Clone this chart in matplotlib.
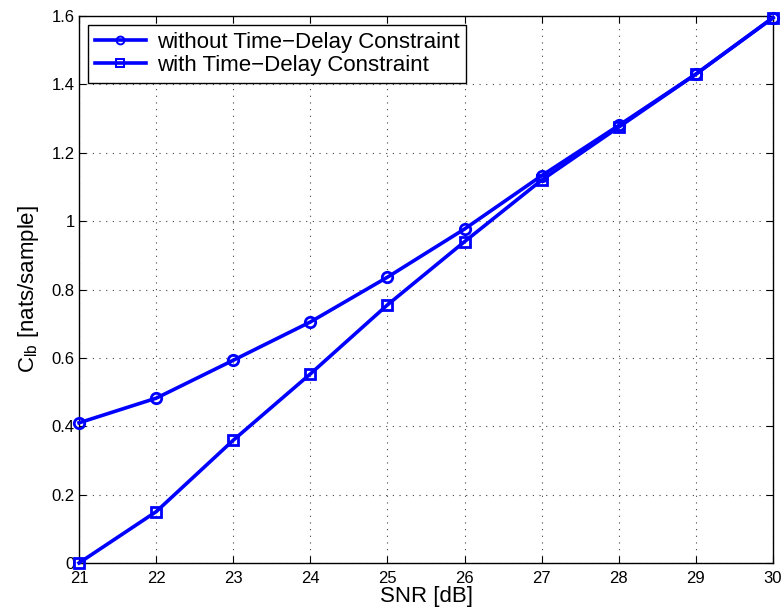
import matplotlib
matplotlib.use("Agg")
import matplotlib.pyplot as plt

snr = [21, 22, 23, 24, 25, 26, 27, 28, 29, 30]
without_tdc = [0.41, 0.482, 0.593, 0.705, 0.836, 0.977, 1.133, 1.28, 1.43, 1.595]
with_tdc = [0.0, 0.15, 0.359, 0.553, 0.755, 0.94, 1.12, 1.275, 1.43, 1.595]
yticks = [0, 0.2, 0.4, 0.6, 0.8, 1.0, 1.2, 1.4, 1.6]
ytick_labels = ["0", "0.2", "0.4", "0.6", "0.8", "1", "1.2", "1.4", "1.6"]

plt.rcParams['font.family'] = ['Liberation Sans', 'DejaVu Sans']
fig = plt.figure(figsize=(7.84, 6.14), dpi=100)
ax = fig.add_axes([79/784, 51/614, 694/784, 547/614])

ax.plot(snr, without_tdc, '-o', color='#0000ff', lw=2.6, ms=7.5, mfc='none', mew=2,
        label='without Time\u2212Delay Constraint', clip_on=False, zorder=3)
ax.plot(snr, with_tdc, '-s', color='#0000ff', lw=2.6, ms=7, mfc='none', mew=2,
        label='with Time\u2212Delay Constraint', clip_on=False, zorder=3)

ax.set_xlim(21, 30)
ax.set_ylim(0, 1.6)
ax.set_xticks(snr)
ax.set_yticks(yticks)
ax.set_yticklabels(ytick_labels)
ax.tick_params(direction='in', top=True, right=True, labelsize=12, length=5, width=0.8)
ax.tick_params(axis='x', pad=6)
ax.tick_params(axis='y', pad=3)
ax.grid(True, linestyle=(0, (1, 5)), color='#444444', linewidth=0.8)
for s in ax.spines.values():
    s.set_linewidth(1.0)

ax.set_xlabel('SNR [dB]', fontsize=16, labelpad=0)
ax.set_ylabel('C$_{\\mathregular{lb}}$ [nats/sample]', fontsize=16, labelpad=8)

leg = ax.legend(loc='upper left', fontsize=16, frameon=True, fancybox=False,
                edgecolor='black', framealpha=1, borderaxespad=0.4,
                handlelength=2.3, handletextpad=0.5, labelspacing=0.12,
                borderpad=0.3, markerscale=0.75)
leg.get_frame().set_linewidth(1.0)
for h in leg.legend_handles:
    h.set_markeredgewidth(1.4)

fig.savefig('out.png', dpi=100)
